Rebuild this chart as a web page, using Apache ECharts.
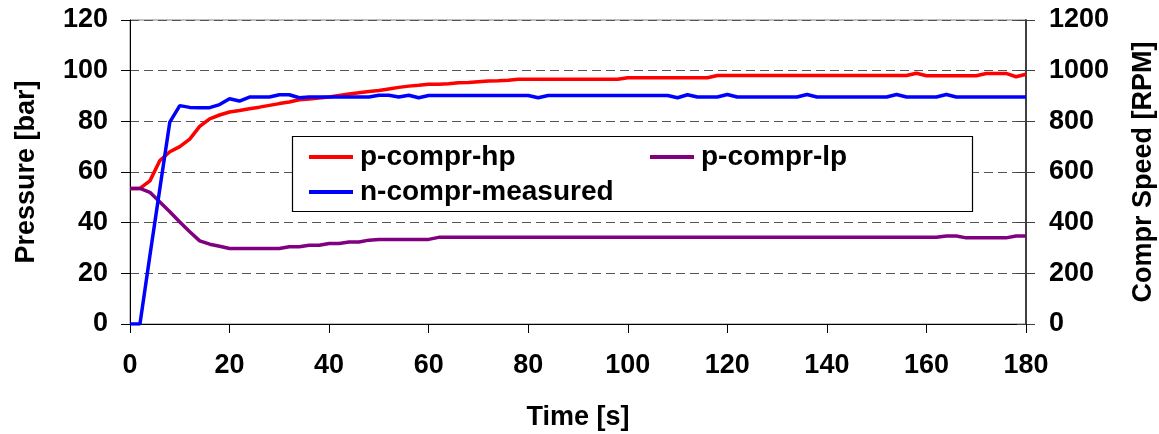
<!DOCTYPE html>
<html>
<head>
<meta charset="utf-8">
<script src="https://cdn.jsdelivr.net/npm/echarts@6/dist/echarts.min.js"></script>
<style>
  html, body { margin: 0; padding: 0; background: #fff; }
  #chart { width: 1159px; height: 434px; }
</style>
</head>
<body>
<div id="chart"></div>
<script>
var times = [0, 2, 4, 6, 8, 10, 12, 14, 16, 18,
  20, 22, 24, 26, 28, 30, 32, 34, 36, 38,
  40, 42, 44, 46, 48, 50, 52, 54, 56, 58,
  60, 62, 64, 66, 68, 70, 72, 74, 76, 78,
  80, 82, 84, 86, 88, 90, 92, 94, 96, 98,
  100, 102, 104, 106, 108, 110, 112, 114, 116, 118,
  120, 122, 124, 126, 128, 130, 132, 134, 136, 138,
  140, 142, 144, 146, 148, 150, 152, 154, 156, 158,
  160, 162, 164, 166, 168, 170, 172, 174, 176, 178,
  180];

// bar
var pHp = [53.5, 53.5, 56.5, 64.5, 68, 70, 73, 78, 81, 82.5,
  83.7, 84.3, 85, 85.6, 86.3, 87, 87.6, 88.5, 88.8, 89.2,
  89.6, 90.2, 90.8, 91.3, 91.8, 92.2, 92.8, 93.4, 93.9, 94.2,
  94.6, 94.6, 94.8, 95.2, 95.3, 95.6, 95.9, 96, 96.2, 96.6,
  96.6, 96.6, 96.6, 96.6, 96.6, 96.6, 96.6, 96.6, 96.6, 96.6,
  97.2, 97.2, 97.2, 97.2, 97.2, 97.2, 97.2, 97.2, 97.2, 98.1,
  98.1, 98.1, 98.1, 98.1, 98.1, 98.1, 98.1, 98.1, 98.1, 98.1,
  98.1, 98.1, 98.1, 98.1, 98.1, 98.1, 98.1, 98.1, 98.1, 99,
  98, 98, 98, 98, 98, 98, 98.9, 98.9, 98.9, 97.6,
  98.6];

var pLp = [53.5, 53.5, 52, 48.2, 44.3, 40.3, 36.4, 32.8, 31.5, 30.7,
  29.8, 29.8, 29.8, 29.8, 29.8, 29.8, 30.5, 30.5, 31.1, 31.1,
  31.8, 31.8, 32.4, 32.4, 33.1, 33.4, 33.4, 33.4, 33.4, 33.4,
  33.4, 34.2, 34.2, 34.2, 34.2, 34.2, 34.2, 34.2, 34.2, 34.2,
  34.2, 34.2, 34.2, 34.2, 34.2, 34.2, 34.2, 34.2, 34.2, 34.2,
  34.2, 34.2, 34.2, 34.2, 34.2, 34.2, 34.2, 34.2, 34.2, 34.2,
  34.2, 34.2, 34.2, 34.2, 34.2, 34.2, 34.2, 34.2, 34.2, 34.2,
  34.2, 34.2, 34.2, 34.2, 34.2, 34.2, 34.2, 34.2, 34.2, 34.2,
  34.2, 34.2, 34.7, 34.7, 34, 34, 34, 34, 34, 34.7,
  34.7];

// RPM
var nMeas = [0, 0, 270, 535, 797, 862, 855, 854, 854, 866,
  889, 880, 896, 896, 896, 905, 905, 893, 896, 896,
  896, 896, 896, 896, 896, 903, 903, 896, 903, 893,
  902, 902, 902, 902, 902, 902, 902, 902, 902, 902,
  902, 893, 902, 902, 902, 902, 902, 902, 902, 902,
  902, 902, 902, 902, 902, 893, 905, 896, 896, 896,
  906, 896, 896, 896, 896, 896, 896, 896, 906, 896,
  896, 896, 896, 896, 896, 896, 896, 906, 896, 896,
  896, 896, 906, 896, 896, 896, 896, 896, 896, 896,
  896];

var leftTicks = { min: 0, max: 120, interval: 20 };
var rightTicks = { min: 0, max: 1200, interval: 200 };

function pairs(vals) {
  return times.map(function (t, i) { return [t, vals[i]]; });
}

var font = "'Liberation Sans', Arial, sans-serif";
var lbl = { color: '#000', fontSize: 27, fontWeight: 'bold', fontFamily: font };

var myChart = echarts.init(document.getElementById('chart'));
var option = {
  animation: false,
  backgroundColor: '#fff',
  grid: {
    left: 130, right: 133, top: 20, bottom: 110,
    outerBoundsMode: 'none',
    show: true, borderColor: '#808080', borderWidth: 1
  },
  legend: [
    {
      data: ['p-compr-hp', 'n-compr-measured'],
      orient: 'vertical',
      left: 309, top: 143,
      padding: 0, itemGap: 7,
      itemWidth: 44, itemHeight: 4, icon: 'rect',
      textStyle: { color: '#000', fontSize: 28, fontWeight: 'bold', fontFamily: font, lineHeight: 28, padding: [0, 0, 0, 2] },
      z: 5
    },
    {
      data: ['p-compr-lp'],
      orient: 'vertical',
      left: 650, top: 143,
      padding: 0,
      itemWidth: 44, itemHeight: 4, icon: 'rect',
      textStyle: { color: '#000', fontSize: 28, fontWeight: 'bold', fontFamily: font, lineHeight: 28, padding: [0, 0, 0, 2] },
      z: 5
    }
  ],
  graphic: [{
    type: 'rect', z: 4,
    shape: { x: 292.5, y: 136.5, width: 680, height: 75 },
    style: { fill: '#fff', stroke: '#000', lineWidth: 1.2 }
  }],
  xAxis: {
    type: 'value', min: 0, max: 180, interval: 20,
    name: 'Time [s]', nameLocation: 'middle', nameGap: 80,
    nameTextStyle: { color: '#000', fontSize: 27, fontWeight: 'bold', fontFamily: font },
    axisLine: { onZero: false, lineStyle: { color: '#000', width: 1 } },
    axisTick: { length: 9, lineStyle: { color: '#000' } },
    axisLabel: Object.assign({ margin: 28 }, lbl),
    splitLine: { show: false }
  },
  yAxis: [
    {
      type: 'value', min: leftTicks.min, max: leftTicks.max, interval: leftTicks.interval,
      name: 'Pressure [bar]', nameLocation: 'middle', nameGap: 90, nameRotate: 90,
      nameTextStyle: { color: '#000', fontSize: 27, fontWeight: 'bold', fontFamily: font },
      axisLine: { show: true, lineStyle: { color: '#000', width: 1 } },
      axisTick: { show: true, length: 9, lineStyle: { color: '#000' } },
      axisLabel: Object.assign({ margin: 22 }, lbl),
      splitLine: { show: true, lineStyle: { color: '#555', width: 1, type: [9, 5] } }
    },
    {
      type: 'value', position: 'right',
      min: rightTicks.min, max: rightTicks.max, interval: rightTicks.interval,
      name: 'Compr Speed [RPM]', nameLocation: 'middle', nameGap: 104, nameRotate: 90,
      nameTextStyle: { color: '#000', fontSize: 27, fontWeight: 'bold', fontFamily: font },
      axisLine: { show: true, lineStyle: { color: '#404040', width: 2 } },
      axisTick: { show: true, length: 9, lineStyle: { color: '#404040' } },
      axisLabel: Object.assign({ margin: 23, formatter: function (v) { return String(v); } }, lbl),
      splitLine: { show: false }
    },
    {
      type: 'value', min: leftTicks.min, max: leftTicks.max, interval: leftTicks.interval,
      axisLine: { show: false },
      axisTick: { show: true, inside: true, length: 8, lineStyle: { color: '#000' } },
      axisLabel: { show: false }, splitLine: { show: false }
    },
    {
      type: 'value', position: 'right',
      min: rightTicks.min, max: rightTicks.max, interval: rightTicks.interval,
      axisLine: { show: false },
      axisTick: { show: true, inside: true, length: 9, lineStyle: { color: '#404040' } },
      axisLabel: { show: false }, splitLine: { show: false }
    }
  ],
  series: [
    {
      name: 'p-compr-hp', type: 'line', yAxisIndex: 0,
      data: pairs(pHp), showSymbol: false, symbol: 'none',
      lineStyle: { color: '#ff0000', width: 3.5 }, itemStyle: { color: '#ff0000' }
    },
    {
      name: 'p-compr-lp', type: 'line', yAxisIndex: 0,
      data: pairs(pLp), showSymbol: false, symbol: 'none',
      lineStyle: { color: '#800080', width: 3.5 }, itemStyle: { color: '#800080' }
    },
    {
      name: 'n-compr-measured', type: 'line', yAxisIndex: 1,
      data: pairs(nMeas), showSymbol: false, symbol: 'none',
      lineStyle: { color: '#0000ff', width: 3.5 }, itemStyle: { color: '#0000ff' }
    }
  ]
};
myChart.setOption(option);
</script>
</body>
</html>
